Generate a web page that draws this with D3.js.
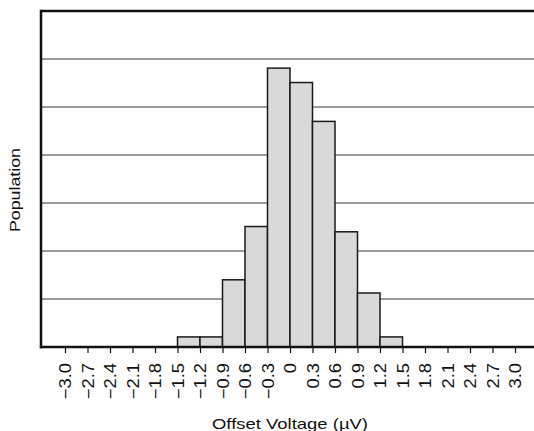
<!DOCTYPE html>
<html>
<head>
<meta charset="utf-8">
<script src="https://cdn.jsdelivr.net/npm/d3@7"></script>
<style>
  html, body { margin: 0; padding: 0; background: #fff; }
  svg { display: block; }
  text { font-family: "Liberation Sans", Arial, sans-serif; fill: #111; }
</style>
</head>
<body>
<svg id="chart" width="534" height="431"></svg>
<script>
// Histogram bins (lower edge, µV), width 0.3 µV
const binStarts = [-1.5, -1.2, -0.9, -0.6, -0.3, 0, 0.3, 0.6, 0.9, 1.2];
const binWidth = 0.3;
// Relative population per bin (in gridline units)
const population = [0.21, 0.21, 1.40, 2.51, 5.81, 5.51, 4.70, 2.40, 1.125, 0.21];
// X tick values and labels
const tickValues = [-3.0, -2.7, -2.4, -2.1, -1.8, -1.5, -1.2, -0.9, -0.6, -0.3, 0, 0.3, 0.6, 0.9, 1.2, 1.5, 1.8, 2.1, 2.4, 2.7, 3.0];
const tickLabels = ["\u22123.0","\u22122.7","\u22122.4","\u22122.1","\u22121.8","\u22121.5","\u22121.2","\u22120.9","\u22120.6","\u22120.3","0","0.3","0.6","0.9","1.2","1.5","1.8","2.1","2.4","2.7","3.0"];
const gridValues = [1, 2, 3, 4, 5, 6];
const xTitle = "Offset Voltage (\u00B5V)";
const yTitle = "Population";

const svg = d3.select("#chart");
const x = d3.scaleLinear().domain([-3, 3]).range([65, 515]);
const y = d3.scaleLinear().domain([0, 7]).range([347, 11]);
const left = x(-3.32), right = 545;

// gridlines
svg.append("g").selectAll("line").data(gridValues).enter().append("line")
  .attr("x1", left).attr("x2", right)
  .attr("y1", d => y(d)).attr("y2", d => y(d))
  .attr("stroke", "#7a7a7a").attr("stroke-width", 1.5);

// bars
svg.append("g").selectAll("rect").data(binStarts).enter().append("rect")
  .attr("x", d => x(d))
  .attr("width", d => x(d + binWidth) - x(d))
  .attr("y", (d, i) => y(population[i]))
  .attr("height", (d, i) => y(0) - y(population[i]))
  .attr("fill", "#d9d9d9").attr("stroke", "#1a1a1a").attr("stroke-width", 1.5);

// frame: top and left borders
svg.append("line").attr("x1", left).attr("x2", right).attr("y1", y(7)).attr("y2", y(7))
  .attr("stroke", "#111").attr("stroke-width", 2.5);
svg.append("line").attr("x1", left).attr("x2", left).attr("y1", y(7) - 1.2).attr("y2", y(0) + 1.2)
  .attr("stroke", "#111").attr("stroke-width", 2.5);

// x axis
const xAxis = d3.axisBottom(x).tickValues(tickValues).tickSize(6).tickSizeOuter(0)
  .tickFormat((d, i) => tickLabels[i]);
const gx = svg.append("g").attr("transform", `translate(0,${y(0)})`).call(xAxis);
gx.attr("font-size", null).attr("font-family", null);
gx.select(".domain").remove();
gx.selectAll(".tick line").attr("stroke", "#111").attr("stroke-width", 1.2).attr("y1", 1);
gx.selectAll(".tick text")
  .attr("transform", "translate(0,16) rotate(-90) scale(1.15,1)")
  .attr("x", 0).attr("y", 0).attr("dy", "0.36em")
  .attr("text-anchor", "end")
  .attr("font-family", "'Liberation Sans', Arial, sans-serif")
  .attr("font-size", 16)
  .attr("fill", "#111");
svg.append("line").attr("x1", left - 1.2).attr("x2", right).attr("y1", y(0)).attr("y2", y(0))
  .attr("stroke", "#111").attr("stroke-width", 2.5);

// titles
svg.append("text").attr("x", x(0)).attr("y", 429)
  .attr("text-anchor", "middle")
  .attr("font-size", 15)
  .attr("textLength", 156).attr("lengthAdjust", "spacingAndGlyphs")
  .text(xTitle);
svg.append("text").attr("transform", "translate(20,190) rotate(-90)")
  .attr("text-anchor", "middle")
  .attr("font-size", 15)
  .attr("textLength", 84).attr("lengthAdjust", "spacingAndGlyphs")
  .text(yTitle);
</script>
</body>
</html>
